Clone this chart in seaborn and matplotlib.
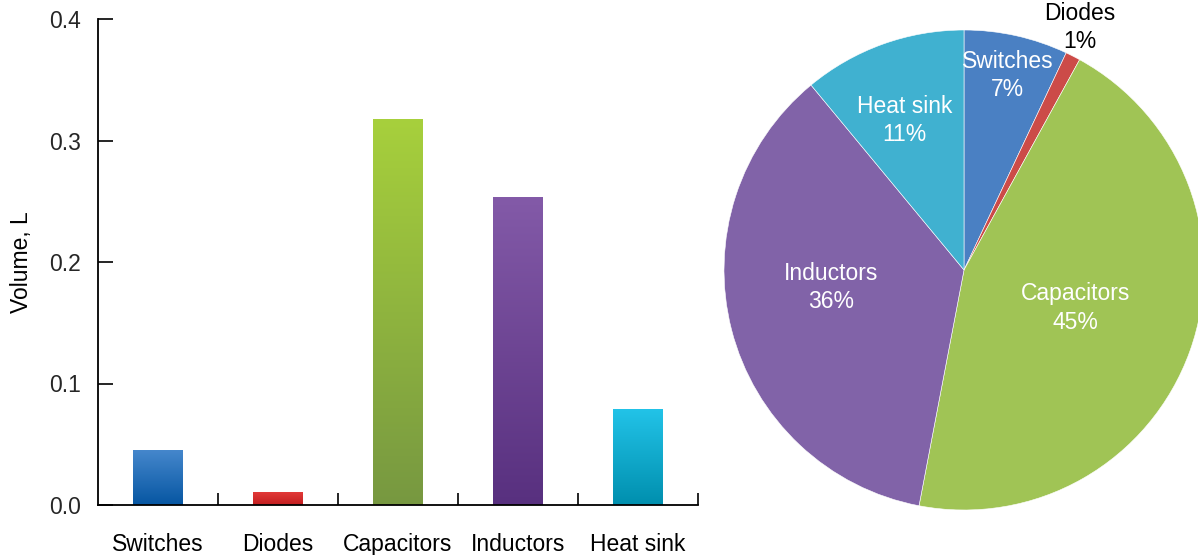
import numpy as np
import pandas as pd
import matplotlib
matplotlib.use("Agg")
import matplotlib.pyplot as plt
from matplotlib.colors import LinearSegmentedColormap
import seaborn as sns

# Component volumes (litres) and share of total volume (%)
components = ["Switches", "Diodes", "Capacitors", "Inductors", "Heat sink"]
volume_l = [0.045, 0.010, 0.317, 0.253, 0.079]
share_pct = [7, 1, 45, 36, 11]

# Bar gradients (top colour, bottom colour) and pie colours
bar_top = ["#4587cc", "#e23a38", "#a7d03c", "#835aa8", "#22c3e8"]
bar_bottom = ["#0656a2", "#c21e20", "#779841", "#58307f", "#008fae"]
pie_colors = ["#4a80c3", "#cc4b48", "#a0c455", "#8163a8", "#40b1d0"]
pie_text_colors = ["white", "black", "white", "white", "white"]
pie_label_radius = [0.83, 1.12, 0.49, 0.56, 0.67]
pie_label_turn = [0, 1.5, 1, -7, 2]

sns.set_theme(style="white")
plt.rcParams["font.family"] = ["Liberation Sans", "DejaVu Sans"]

fig = plt.figure(figsize=(11.98, 5.55), dpi=100)
W, H = 1198, 555

# ---- bar chart ----
ax = fig.add_axes([98 / W, 50 / H, 600 / W, 486 / H])
df = pd.DataFrame({"component": components, "volume": volume_l})
sns.barplot(data=df, x="component", y="volume", ax=ax, width=0.41,
            color="grey", saturation=1)

grad = np.linspace(0, 1, 256).reshape(-1, 1)
for patch, top, bot in zip(ax.patches, bar_top, bar_bottom):
    x0, w, h = patch.get_x(), patch.get_width(), patch.get_height()
    cmap = LinearSegmentedColormap.from_list("g", [bot, top])
    ax.imshow(grad, cmap=cmap, extent=[x0, x0 + w, 0, h], origin="lower",
              aspect="auto", zorder=2)
    patch.set_visible(False)

ax.set_xlim(-0.5, len(components) - 0.5)
ax.set_ylim(0, 0.4)
ax.set_yticks([0.0, 0.1, 0.2, 0.3, 0.4])
ax.set_yticklabels([f"{v:.1f}" for v in [0.0, 0.1, 0.2, 0.3, 0.4]])
ax.set_xticks(np.arange(len(components)))
ax.set_xticklabels(components)
ax.set_xticks(np.arange(len(components)) + 0.5, minor=True)
ax.tick_params(axis="x", which="major", length=0, pad=20, labelsize=16.5,
               colors="black")
ax.tick_params(axis="x", which="minor", direction="in", length=9,
               width=1.2, color="black", bottom=True)
ax.tick_params(axis="y", direction="in", length=11, width=1.2,
               color="black", labelsize=16.5, pad=12, left=True)
for s in ["top", "right"]:
    ax.spines[s].set_visible(False)
for s in ["left", "bottom"]:
    ax.spines[s].set_color("black")
    ax.spines[s].set_linewidth(1.3)
ax.set_xlabel("")
ax.set_ylabel("Volume, L", fontsize=16.5, color="black", labelpad=12)

# ---- pie chart ----
pax = fig.add_axes([724 / W, 45 / H, 480 / W, 480 / H])
wedges, _ = pax.pie(share_pct, colors=pie_colors, startangle=90,
                    counterclock=False,
                    wedgeprops=dict(edgecolor="white", linewidth=0.4))
for wdg, name, pct, tc, r, turn in zip(wedges, components, share_pct,
                                       pie_text_colors, pie_label_radius,
                                       pie_label_turn):
    mid = np.deg2rad((wdg.theta1 + wdg.theta2) / 2 + turn)
    pax.text(r * np.cos(mid), r * np.sin(mid), f"{name}\n{pct}%",
             ha="center", va="center", fontsize=16.5, color=tc,
             linespacing=1.3)
pax.set_xlim(-1, 1)
pax.set_ylim(-1, 1)
pax.set_aspect("equal")
pax.axis("off")

fig.savefig("out.png", dpi=100, facecolor="white")
